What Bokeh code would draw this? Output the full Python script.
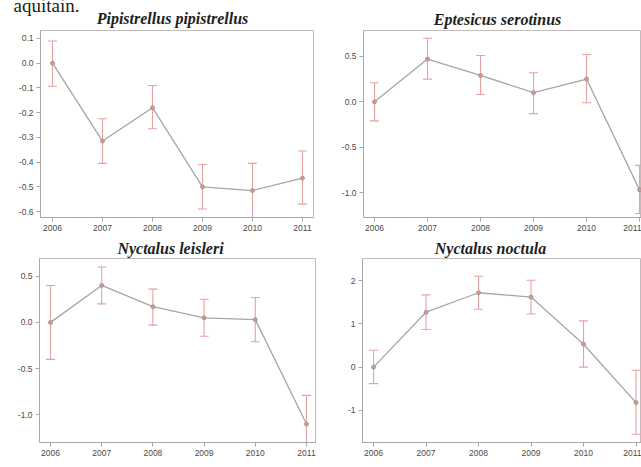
from bokeh.plotting import figure
from bokeh.layouts import column, row
from bokeh.models import ColumnDataSource, FixedTicker, PrintfTickFormatter, Range1d
from bokeh.core.properties import value
from bokeh.embed import file_html
from bokeh.resources import INLINE

# ---------------- data ----------------
years = [2006, 2007, 2008, 2009, 2010, 2011]

pip_est = [0.0, -0.315, -0.18, -0.50, -0.515, -0.465]
pip_lo = [-0.093, -0.405, -0.265, -0.59, -0.625, -0.57]
pip_hi = [0.09, -0.225, -0.09, -0.41, -0.405, -0.355]
pip_yticks = [0.1, 0.0, -0.1, -0.2, -0.3, -0.4, -0.5, -0.6]

ser_est = [0.0, 0.47, 0.29, 0.10, 0.25, -0.97]
ser_lo = [-0.21, 0.25, 0.08, -0.13, -0.01, -1.23]
ser_hi = [0.21, 0.70, 0.51, 0.32, 0.52, -0.70]
ser_yticks = [0.5, 0.0, -0.5, -1.0]

lei_est = [0.0, 0.40, 0.17, 0.05, 0.03, -1.10]
lei_lo = [-0.40, 0.20, -0.03, -0.15, -0.21, -1.40]
lei_hi = [0.40, 0.60, 0.36, 0.25, 0.27, -0.79]
lei_yticks = [0.5, 0.0, -0.5, -1.0]

noc_est = [0.0, 1.27, 1.72, 1.62, 0.53, -0.82]
noc_lo = [-0.38, 0.87, 1.34, 1.23, 0.0, -1.55]
noc_hi = [0.39, 1.67, 2.10, 2.01, 1.07, -0.07]
noc_yticks = [2, 1, 0, -1]

titles = ["Pipistrellus pipistrellus", "Eptesicus serotinus",
          "Nyctalus leisleri", "Nyctalus noctula"]
caption = "aquitain."

# ---------------- styling ----------------
LINE = "#a6a6a6"
ERR = "#e4a2a2"
PT_FILL = "#c99c9c"
PT_LINE = "#b38686"
FRAME = "#c4bcbc"
AXIS = "#a8a8a8"
TXT = "#4a4a4a"
TITLE_COL = "#1e1e1e"


def header(w, h):
    """A strip above a panel holding its title (pixel coordinates)."""
    f = figure(width=w, height=h, output_backend="svg", toolbar_location=None,
               x_range=Range1d(0, w), y_range=Range1d(h, 0),
               x_axis_type=None, y_axis_type=None, min_border=0)
    f.title.visible = False
    f.grid.visible = False
    f.outline_line_color = None
    f.border_fill_color = "white"
    f.background_fill_color = "white"
    return f


def add_title(f, text, cx, ypos):
    f.text(x=[cx], y=[ypos], text=[text], text_align="center",
           text_baseline="alphabetic", text_font=value("Liberation Serif"),
           text_font_style="bold italic", text_font_size="16px",
           text_color=TITLE_COL)


def panel(est, lo, hi, yticks, fmt, w, h, L, R, T, B, x0, x1, y0, y1):
    p = figure(width=w, height=h, output_backend="svg", toolbar_location=None,
               x_range=Range1d(x0, x1), y_range=Range1d(y0, y1),
               min_border_left=L, min_border_right=R, min_border_top=T,
               min_border_bottom=B)
    p.title.visible = False
    p.grid.visible = False
    p.outline_line_color = FRAME
    p.outline_line_width = 1
    p.background_fill_color = "white"
    p.border_fill_color = "white"
    for ax in (p.xaxis[0], p.yaxis[0]):
        ax.axis_line_color = AXIS
        ax.major_tick_line_color = AXIS
        ax.major_tick_in = 0
        ax.major_tick_out = 4
        ax.minor_tick_line_color = None
        ax.major_label_text_font = "Liberation Sans"
        ax.major_label_text_font_size = "8.5px"
        ax.major_label_text_color = TXT
        ax.major_label_standoff = 3
    p.xaxis.ticker = FixedTicker(ticks=years)
    p.yaxis.ticker = FixedTicker(ticks=yticks)
    p.yaxis.formatter = PrintfTickFormatter(format=fmt)

    src = ColumnDataSource(dict(x=years, y=est, lo=lo, hi=hi))
    p.line("x", "y", source=src, line_color=LINE, line_width=1.3)
    p.segment("x", "lo", "x", "hi", source=src, line_color=ERR, line_width=1.1)
    p.scatter("x", "lo", source=src, marker="dash", size=9, line_color=ERR,
              line_width=1.1)
    p.scatter("x", "hi", source=src, marker="dash", size=9, line_color=ERR,
              line_width=1.1)
    p.scatter("x", "y", source=src, marker="circle", size=4,
              fill_color=PT_FILL, line_color=PT_LINE, line_width=0.8)
    return p


# headers (top: 29 px, bottom: 20 px)
h1 = header(320, 29)
h2 = header(321, 29)
h3 = header(320, 20)
h4 = header(321, 20)

# running-text fragment, cut by the top edge as in the source page
h1.text(x=[13], y=[5], text=[caption], text_align="left",
        text_baseline="alphabetic", text_font=value("Liberation Serif"),
        text_font_size="19px", text_color="#202020")
add_title(h1, titles[0], 172, 18)
add_title(h2, titles[1], 177, 19)
add_title(h3, titles[2], 170, 10)
add_title(h4, titles[3], 170, 10)

p1 = panel(pip_est, pip_lo, pip_hi, pip_yticks, "%.1f",
           320, 209, 40, 7, 0, 21, 2005.76, 2011.22, -0.6241, 0.1322)
p2 = panel(ser_est, ser_lo, ser_hi, ser_yticks, "%.1f",
           321, 209, 43, 0, 1, 20, 2005.792, 2011.037, -1.274, 0.785)
p3 = panel(lei_est, lei_lo, lei_hi, lei_yticks, "%.1f",
           320, 209, 39, 5, 0, 25, 2005.785, 2011.176, -1.2998, 0.6916)
p4 = panel(noc_est, noc_lo, noc_hi, noc_yticks, "%d",
           321, 209, 42, 0, 0, 18, 2005.79, 2011.104, -1.742, 2.512)

layout = column(row(h1, h2, spacing=0), row(p1, p2, spacing=0),
                row(h3, h4, spacing=0), row(p3, p4, spacing=0), spacing=0)

open("out.html", "w").write(file_html(layout, INLINE))
